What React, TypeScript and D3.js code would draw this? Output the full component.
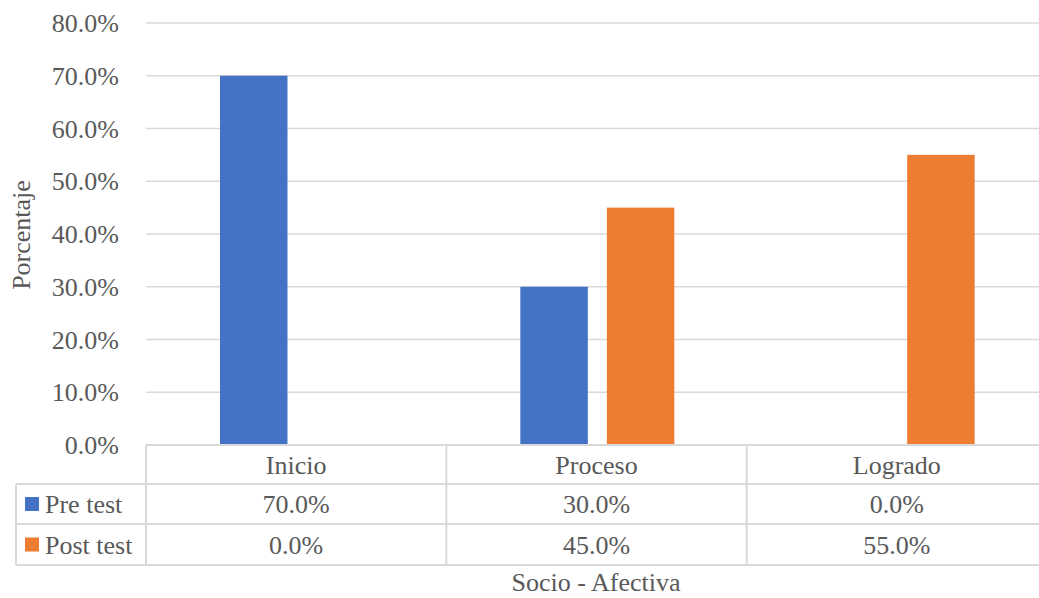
import { scaleBand, scaleLinear } from 'd3';

// Data
const categories = ['Inicio', 'Proceso', 'Logrado'];
const seriesNames = ['Pre test', 'Post test'];
const preTest = [70, 30, 0];
const postTest = [0, 45, 55];
const yTicks = [0, 10, 20, 30, 40, 50, 60, 70, 80];

const seriesValues = [preTest, postTest];
const seriesColors = ['#4472C4', '#ED7D31'];

function App() {
    // Dimensions
    const width = 1039;
    const height = 598;
    const plotLeft = 146;
    const plotRight = 1047;
    const plotTop = 23;
    const plotBottom = 445;
    const rowTops = [445, 484, 524, 565];
    const tableLeft = 16;
    const textColor = '#595959';
    const lineColor = '#D9D9D9';
    const textStyle = {
        fontFamily: "'Times New Roman', 'Liberation Serif', serif",
        fontSize: '26px',
    };

    // Scales
    const x = scaleBand().domain(categories).range([plotLeft, plotRight]);
    const xInner = scaleBand()
        .domain(seriesNames)
        .range([74, 228])
        .paddingInner(0.22);
    const y = scaleLinear().domain([0, 80]).range([plotBottom, plotTop]);

    const fmt = (v: number) => `${v.toFixed(1)}%`;

    return (
        <div style={{ position: 'absolute', left: 0, top: 0 }}>
            <svg width={width} height={height} style={{ display: 'block' }}>
                <rect width={width} height={height} fill="#fff" />

                {/* Gridlines */}
                {yTicks.map((t) => (
                    <line
                        key={`g${t}`}
                        x1={plotLeft}
                        x2={plotRight}
                        y1={y(t)}
                        y2={y(t)}
                        stroke={lineColor}
                        strokeWidth={1.5}
                    />
                ))}

                {/* Y tick labels */}
                {yTicks.map((t) => (
                    <text
                        key={`t${t}`}
                        x={119}
                        y={y(t) + 9}
                        textAnchor="end"
                        style={textStyle}
                        fill={textColor}
                    >
                        {fmt(t)}
                    </text>
                ))}

                {/* Bars */}
                {seriesNames.map((s, si) =>
                    categories.map((c, ci) => (
                        <rect
                            key={`${s}-${c}`}
                            x={(x(c) ?? 0) + (xInner(s) ?? 0)}
                            y={y(seriesValues[si][ci])}
                            width={xInner.bandwidth()}
                            height={plotBottom - y(seriesValues[si][ci])}
                            fill={seriesColors[si]}
                        />
                    ))
                )}

                {/* Data table lines */}
                {rowTops.map((ry, i) => (
                    <line
                        key={`r${i}`}
                        x1={i === 0 ? plotLeft : tableLeft}
                        x2={plotRight}
                        y1={ry}
                        y2={ry}
                        stroke={lineColor}
                        strokeWidth={2}
                    />
                ))}
                <line
                    x1={tableLeft}
                    x2={tableLeft}
                    y1={rowTops[1]}
                    y2={rowTops[3]}
                    stroke={lineColor}
                    strokeWidth={2}
                />
                {categories.map((c) => (
                    <line
                        key={`v${c}`}
                        x1={x(c) ?? 0}
                        x2={x(c) ?? 0}
                        y1={rowTops[0]}
                        y2={rowTops[3]}
                        stroke={lineColor}
                        strokeWidth={2}
                    />
                ))}

                {/* Category labels */}
                {categories.map((c) => (
                    <text
                        key={`c${c}`}
                        x={(x(c) ?? 0) + x.bandwidth() / 2}
                        y={(rowTops[0] + rowTops[1]) / 2 + 9}
                        textAnchor="middle"
                        style={textStyle}
                        fill={textColor}
                    >
                        {c}
                    </text>
                ))}

                {/* Series rows */}
                {seriesNames.map((s, si) => {
                    const mid = (rowTops[si + 1] + rowTops[si + 2]) / 2;
                    return (
                        <g key={`row${s}`}>
                            <rect
                                x={25}
                                y={mid - 7}
                                width={14}
                                height={14}
                                fill={seriesColors[si]}
                            />
                            <text
                                x={45}
                                y={mid + 9}
                                style={textStyle}
                                fill={textColor}
                            >
                                {s}
                            </text>
                            {categories.map((c, ci) => (
                                <text
                                    key={`v${s}${c}`}
                                    x={(x(c) ?? 0) + x.bandwidth() / 2}
                                    y={mid + 9}
                                    textAnchor="middle"
                                    style={textStyle}
                                    fill={textColor}
                                >
                                    {fmt(seriesValues[si][ci])}
                                </text>
                            ))}
                        </g>
                    );
                })}

                {/* Axis titles */}
                <text
                    transform="translate(30, 235) rotate(-90)"
                    textAnchor="middle"
                    style={textStyle}
                    fill={textColor}
                >
                    Porcentaje
                </text>
                <text
                    x={596}
                    y={591}
                    textAnchor="middle"
                    style={textStyle}
                    fill={textColor}
                >
                    Socio - Afectiva
                </text>
            </svg>
        </div>
    );
}

export default App;
